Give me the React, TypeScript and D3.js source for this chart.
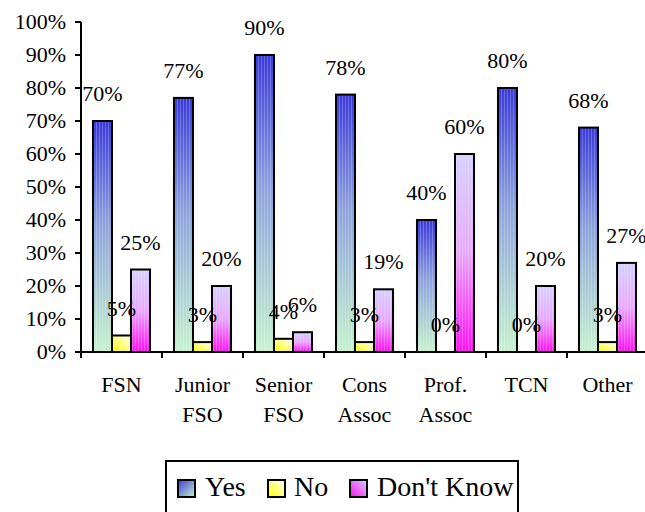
import React, { useEffect } from "react";
import * as d3 from "d3";

// Survey responses by group (percent)
const categories: string[][] = [
  ["FSN"],
  ["Junior", "FSO"],
  ["Senior", "FSO"],
  ["Cons", "Assoc"],
  ["Prof.", "Assoc"],
  ["TCN"],
  ["Other"],
];
const seriesNames = ["Yes", "No", "Don't Know"];
const yesValues = [70, 77, 90, 78, 40, 80, 68];
const noValues = [5, 3, 4, 3, 0, 0, 3];
const dontKnowValues = [25, 20, 6, 19, 60, 20, 27];
const yTicks = [0, 10, 20, 30, 40, 50, 60, 70, 80, 90, 100];

const W = 645;
const H = 512;
const FONT = "Liberation Serif";

export default function App() {
  useEffect(() => {
    document.body.style.margin = "0";
  }, []);

  const margin = { left: 81, top: 22, right: -3 };
  const plotBottom = 352;
  const plotRight = W - margin.right;

  const y = d3.scaleLinear().domain([0, 100]).range([plotBottom, margin.top]);
  const x = d3
    .scaleBand<number>()
    .domain(categories.map((_, i) => i))
    .range([margin.left, plotRight])
    .padding(0);
  const xs = d3
    .scaleBand<string>()
    .domain(seriesNames)
    .range([0, x.bandwidth()])
    .paddingInner(0)
    .paddingOuter(0.63);

  const seriesValues = [yesValues, noValues, dontKnowValues];
  const fills = ["url(#gYes)", "url(#gNo)", "url(#gDk)"];
  const legendFills = ["url(#lYes)", "url(#lNo)", "url(#lDk)"];
  const fmt = (v: number) => d3.format(".0f")(v) + "%";

  const legendItems = [
    { sx: 178, tx: 205 },
    { sx: 268, tx: 294 },
    { sx: 350, tx: 377 },
  ];

  return (
    <div style={{ fontFamily: FONT, width: W, height: H }}>
      <svg width={W} height={H} style={{ display: "block", fontFamily: FONT }}>
        <style>{`text { font-family: "Liberation Serif", serif; }`}</style>
        <defs>
          <linearGradient id="gYes" x1="0" y1="0" x2="0" y2="1">
            <stop offset="0" stopColor="#3a3ad8" />
            <stop offset="0.45" stopColor="#8da2dc" />
            <stop offset="1" stopColor="#c6f2cf" />
          </linearGradient>
          <linearGradient id="gNo" x1="0" y1="1" x2="1" y2="0">
            <stop offset="0" stopColor="#ffff00" />
            <stop offset="1" stopColor="#ffffff" />
          </linearGradient>
          <linearGradient id="gDk" x1="0" y1="0" x2="0" y2="1">
            <stop offset="0" stopColor="#d6d0ff" />
            <stop offset="0.5" stopColor="#e8a8ff" />
            <stop offset="1" stopColor="#ff10f0" />
          </linearGradient>
          <linearGradient id="lYes" x1="0" y1="0" x2="1" y2="1">
            <stop offset="0" stopColor="#3a3ad8" />
            <stop offset="1" stopColor="#c6f2cf" />
          </linearGradient>
          <linearGradient id="lNo" x1="0" y1="1" x2="1" y2="0">
            <stop offset="0" stopColor="#ffff00" />
            <stop offset="1" stopColor="#ffffff" />
          </linearGradient>
          <linearGradient id="lDk" x1="0" y1="1" x2="1" y2="0">
            <stop offset="0" stopColor="#ff10f0" />
            <stop offset="1" stopColor="#d6d0ff" />
          </linearGradient>
          <pattern id="stripes" width="3" height="4" patternUnits="userSpaceOnUse">
            <rect x="0" y="0" width="1" height="4" fill="#ffffff" opacity="0.22" />
          </pattern>
        </defs>

        {/* Y axis */}
        <line x1={margin.left} x2={margin.left} y1={y(100)} y2={plotBottom} stroke="#000" strokeWidth={2} />
        {yTicks.map((t) => (
          <g key={t}>
            <line x1={margin.left - 6} x2={margin.left} y1={y(t)} y2={y(t)} stroke="#000" strokeWidth={2} />
            <text x={66} y={y(t)} dy="0.32em" textAnchor="end" fontSize={22} fill="#000">
              {t + "%"}
            </text>
          </g>
        ))}

        {/* Bars */}
        {categories.map((_, ci) => (
          <g key={ci} transform={`translate(${x(ci)},0)`}>
            {seriesNames.map((s, si) => {
              const v = seriesValues[si][ci];
              const bx = xs(s)!;
              const by = y(v);
              const bh = plotBottom - by;
              if (v <= 0) return null;
              return (
                <g key={s}>
                  <rect x={bx} y={by} width={xs.bandwidth()} height={bh} fill={fills[si]} />
                  {si !== 1 && (
                    <rect x={bx} y={by} width={xs.bandwidth()} height={bh} fill="url(#stripes)" />
                  )}
                  <rect x={bx} y={by} width={xs.bandwidth()} height={bh} fill="none" stroke="#000" strokeWidth={2} />
                </g>
              );
            })}
          </g>
        ))}

        {/* X axis */}
        <line x1={margin.left - 6} x2={plotRight} y1={plotBottom} y2={plotBottom} stroke="#000" strokeWidth={2} />
        {categories.map((_, ci) => (
          <line
            key={ci}
            x1={x(ci)! + x.bandwidth()}
            x2={x(ci)! + x.bandwidth()}
            y1={plotBottom}
            y2={plotBottom + 6}
            stroke="#000"
            strokeWidth={2}
          />
        ))}
        <line x1={margin.left} x2={margin.left} y1={plotBottom} y2={plotBottom + 6} stroke="#000" strokeWidth={2} />

        {/* Value labels */}
        {categories.map((_, ci) =>
          seriesNames.map((s, si) => {
            const v = seriesValues[si][ci];
            return (
              <text
                key={`${ci}-${s}`}
                x={x(ci)! + xs(s)! + xs.bandwidth() / 2}
                y={y(v) - 20}
                textAnchor="middle"
                fontSize={22}
                fill="#000"
              >
                {fmt(v)}
              </text>
            );
          })
        )}

        {/* Category labels */}
        {categories.map((lines, ci) => (
          <text key={ci} x={x(ci)! + x.bandwidth() / 2} y={392} textAnchor="middle" fontSize={22} fill="#000">
            {lines.map((l, li) => (
              <tspan key={li} x={x(ci)! + x.bandwidth() / 2} dy={li === 0 ? 0 : 30}>
                {l}
              </tspan>
            ))}
          </text>
        ))}

        {/* Legend */}
        <rect x={166} y={461} width={352} height={60} fill="none" stroke="#000" strokeWidth={2} />
        {legendItems.map((it, i) => (
          <g key={seriesNames[i]}>
            <rect x={it.sx} y={480} width={17} height={17} fill={legendFills[i]} stroke="#000" strokeWidth={2} />
            <text x={it.tx} y={496} fontSize={28} fill="#000">
              {seriesNames[i]}
            </text>
          </g>
        ))}
      </svg>
    </div>
  );
}
